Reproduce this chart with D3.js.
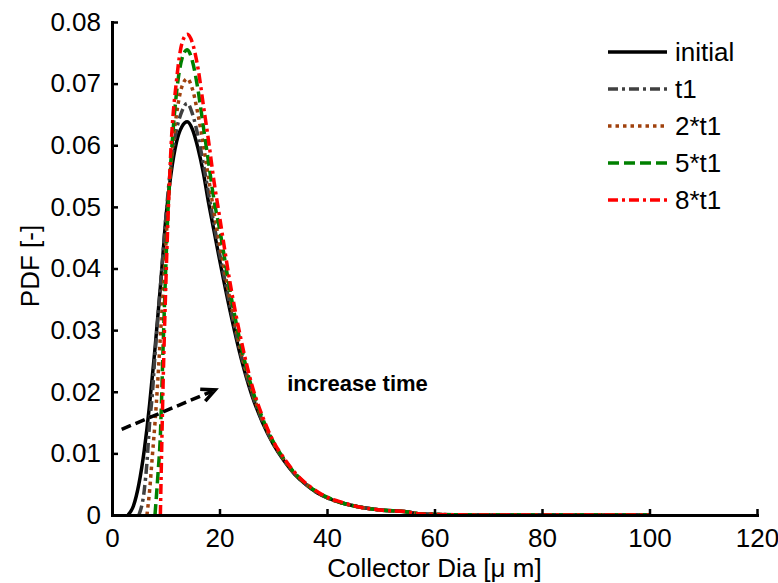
<!DOCTYPE html>
<html>
<head>
<meta charset="utf-8">
<script src="https://cdn.jsdelivr.net/npm/d3@7"></script>
<style>
  html, body { margin: 0; padding: 0; background: #fff; }
  svg { display: block; }
  text { font-family: Arial, "Liberation Sans", Helvetica, sans-serif; fill: #000; }
</style>
</head>
<body>
<svg id="chart" width="778" height="583"></svg>
<script>
// ---------- data ----------
const diameters = [3,4,5,6,6.5,7,7.5,8,8.5,9,9.5,10,10.5,11,12,13,14,15,16,17,18,19,20,22,24,26,28,30,32,34,36,38,40,43,46,50,55,57,60,70,80,90,100];

const pdfInitial = [0,0.0015,0.005,0.0105,0.014,0.018,0.0225,0.027,0.032,0.037,0.0425,0.048,0.052,0.0555,0.0605,0.063,0.0638,0.0625,0.0595,0.0555,0.0505,0.046,0.0415,0.033,0.0255,0.0195,0.015,0.0115,0.0088,0.0066,0.005,0.0037,0.0028,0.0019,0.0013,0.0008,0.0005,0.0002,0.0001,0,0,0,0];

const pdfT1 = [null,null,0,0.004,0.0085,0.015,0.0195,0.026,0.0315,0.037,0.0425,0.048,0.053,0.057,0.0625,0.0655,0.0668,0.065,0.0615,0.057,0.052,0.047,0.0425,0.0338,0.026,0.0198,0.0152,0.0116,0.0089,0.0066,0.005,0.0037,0.0028,0.0019,0.0013,0.0008,0.0005,0.0002,0.0001,0,0,0,0];

const pdf2T1 = [null,null,null,null,0,0.004,0.0095,0.015,0.0215,0.029,0.036,0.0435,0.051,0.057,0.065,0.0695,0.0708,0.069,0.065,0.06,0.0545,0.049,0.044,0.0348,0.0266,0.0202,0.0154,0.0117,0.009,0.0067,0.0051,0.0038,0.0028,0.0019,0.0013,0.0008,0.0005,0.0002,0.0001,0,0,0,0];

const pdf5T1 = [null,null,null,null,null,null,null,0,0.006,0.013,0.027,0.040,0.051,0.058,0.0685,0.074,0.0755,0.0735,0.069,0.063,0.057,0.051,0.0465,0.0362,0.0275,0.0207,0.0157,0.0119,0.0091,0.0068,0.0051,0.0038,0.0029,0.0019,0.0013,0.0008,0.0005,0.0002,0.0001,0,0,0,0];

const pdf8T1 = [null,null,null,null,null,null,null,null,null,0,0.021,0.037,0.050,0.060,0.0705,0.0765,0.078,0.0765,0.0725,0.0665,0.0605,0.054,0.0485,0.0375,0.0285,0.0212,0.016,0.012,0.0092,0.0069,0.0052,0.0039,0.0029,0.002,0.0013,0.0008,0.0005,0.0002,0.0001,0,0,0,0];

const seriesNames = ["initial", "t1", "2*t1", "5*t1", "8*t1"];
const xTicks = [0, 20, 40, 60, 80, 100, 120];
const yTicks = [0, 0.01, 0.02, 0.03, 0.04, 0.05, 0.06, 0.07, 0.08];
const arrowFrom = [1.8, 0.0139];
const arrowTo = [19.2, 0.0203];
const annotation = { text: "increase time", x: 32.6, y: 0.0201 };

// ---------- styles ----------
const styles = [
  { color: "#000000", dash: null,          width: 3.5 },
  { color: "#404040", dash: "10,4,3,4",    width: 3.5 },
  { color: "#a0410d", dash: "3.5,4",       width: 3.5 },
  { color: "#008000", dash: "11,5",        width: 3.5 },
  { color: "#ff0000", dash: "10,4,3,4",    width: 3.5 }
];
const seriesValues = [pdfInitial, pdfT1, pdf2T1, pdf5T1, pdf8T1];

// ---------- layout ----------
const svg = d3.select("#chart");
const mLeft = 112, mRight = 757, mTop = 22, mBottom = 515;

const x = d3.scaleLinear().domain([0, 120]).range([mLeft, mRight]);
const y = d3.scaleLinear().domain([0, 0.08]).range([mBottom, mTop]);

// series lines
const line = d3.line()
  .defined(d => d[1] !== null)
  .x(d => x(d[0]))
  .y(d => y(d[1]))
  .curve(d3.curveMonotoneX);

const plot = svg.append("g");
seriesValues.forEach((vals, i) => {
  const pts = diameters.map((d, j) => [d, vals[j]]);
  plot.append("path")
    .attr("d", line(pts))
    .attr("fill", "none")
    .attr("stroke", styles[i].color)
    .attr("stroke-width", styles[i].width)
    .attr("stroke-dasharray", styles[i].dash)
    .attr("stroke-linejoin", "round");
});

// axes
const xAxis = d3.axisBottom(x).tickValues(xTicks).tickSizeInner(-6).tickSizeOuter(0).tickPadding(12).tickFormat(d3.format("d"));
const yAxis = d3.axisLeft(y).tickValues(yTicks).tickSizeInner(-6).tickSizeOuter(0).tickPadding(12)
  .tickFormat(d => d === 0 ? "0" : d.toFixed(2));

const gx = svg.append("g").attr("transform", `translate(0,${mBottom})`).call(xAxis);
const gy = svg.append("g").attr("transform", `translate(${mLeft},0)`).call(yAxis);

[gx, gy].forEach(g => {
  g.select(".domain").attr("stroke", "#000").attr("stroke-width", 3).attr("stroke-linecap", "square");
  g.selectAll(".tick line").attr("stroke", "#000").attr("stroke-width", 2.5);
  g.selectAll(".tick text").attr("font-size", 26).attr("font-family", "Arial, 'Liberation Sans', sans-serif").attr("fill", "#000");
});
gx.selectAll(".tick text").attr("dy", "0.71em").attr("y", 14);
gy.selectAll(".tick text").attr("x", -11);

// axis titles
svg.append("text")
  .attr("x", (mLeft + mRight) / 2).attr("y", 577)
  .attr("text-anchor", "middle").attr("font-size", 26)
  .text("Collector Dia [\u03bc m]");

svg.append("text")
  .attr("transform", "translate(39,266) rotate(-90)")
  .attr("text-anchor", "middle").attr("font-size", 26)
  .text("PDF [-]");

// legend
const legend = svg.append("g");
seriesNames.forEach((name, i) => {
  const cy = 52 + i * 37;
  legend.append("line")
    .attr("x1", 608).attr("x2", 667).attr("y1", cy).attr("y2", cy)
    .attr("stroke", styles[i].color)
    .attr("stroke-width", styles[i].width)
    .attr("stroke-dasharray", styles[i].dash);
  legend.append("text")
    .attr("x", 675).attr("y", cy + 9)
    .attr("font-size", 26)
    .text(name);
});

// annotation arrow
const ax0 = x(arrowFrom[0]), ay0 = y(arrowFrom[1]);
const ax1 = x(arrowTo[0]), ay1 = y(arrowTo[1]);
const ang = Math.atan2(ay1 - ay0, ax1 - ax0);
svg.append("line")
  .attr("x1", ax0).attr("y1", ay0).attr("x2", ax1 - 3 * Math.cos(ang)).attr("y2", ay1 - 3 * Math.sin(ang))
  .attr("stroke", "#000").attr("stroke-width", 3.5).attr("stroke-dasharray", "10,5");
const headLen = 15, spread = 0.45;
const hp = [
  [ax1 - headLen * Math.cos(ang - spread), ay1 - headLen * Math.sin(ang - spread)],
  [ax1, ay1],
  [ax1 - headLen * Math.cos(ang + spread), ay1 - headLen * Math.sin(ang + spread)]
];
svg.append("path")
  .attr("d", d3.line()(hp))
  .attr("fill", "none").attr("stroke", "#000").attr("stroke-width", 3.5)
  .attr("stroke-linejoin", "miter");

svg.append("text")
  .attr("x", x(annotation.x)).attr("y", y(annotation.y))
  .attr("font-size", 22).attr("font-weight", "bold")
  .text(annotation.text);
</script>
</body>
</html>
